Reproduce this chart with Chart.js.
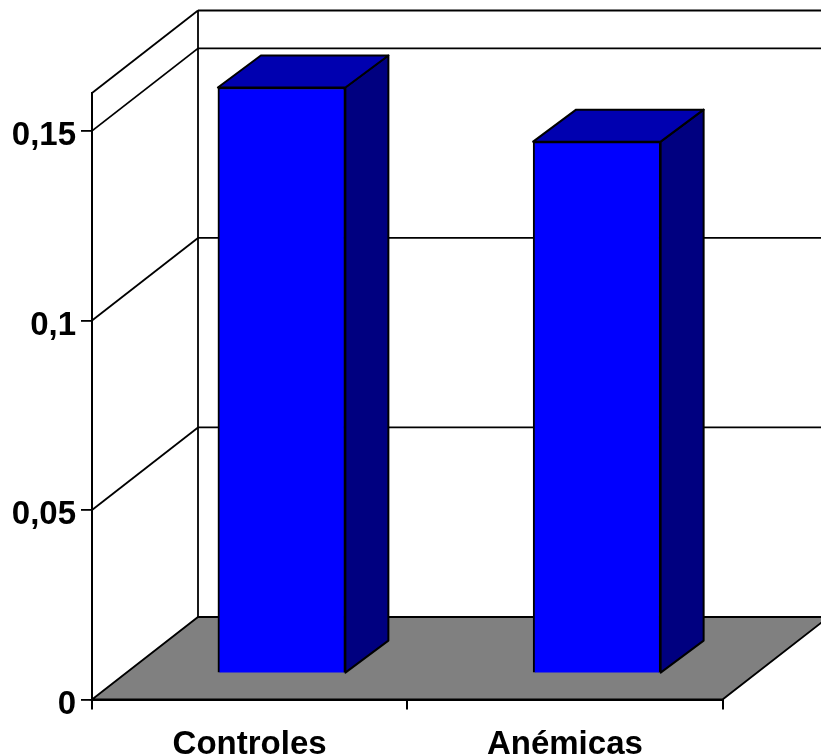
<!DOCTYPE html>
<html>
<head>
<meta charset="utf-8">
<style>
  html, body { margin: 0; padding: 0; background: #fff; overflow: hidden; }
  canvas { display: block; }
</style>
<script src="https://cdn.jsdelivr.net/npm/chart.js@4"></script>
</head>
<body>
<canvas id="chart" width="821" height="754"></canvas>
<script>
const categories = ["Controles", "Anémicas"];
const barValues = [0.1546, 0.1403];
const yTickValues = [0, 0.05, 0.1, 0.15];
const yTickLabels = ["0", "0,05", "0,1", "0,15"];
const yMax = 0.16;

// depth of the fake 3D box, and how far the bars stand in from the front plane
const wallDepth = { x: 106, y: 82.5 };
const barInset = { x: 32, y: 26 };
const barDepth = { x: 43, y: 32 };
const yLabelDrop = 5;

function poly(ctx, points, fill) {
    ctx.beginPath();
    ctx.moveTo(points[0][0], points[0][1]);
    for (var i = 1; i < points.length; i++) ctx.lineTo(points[i][0], points[i][1]);
    ctx.closePath();
    if (fill) {
        ctx.fillStyle = fill;
        ctx.fill();
    }
    ctx.stroke();
}

function line(ctx, x1, y1, x2, y2) {
    ctx.beginPath();
    ctx.moveTo(x1, y1);
    ctx.lineTo(x2, y2);
    ctx.stroke();
}

// left wall, back wall and floor
const boxPlugin = {
    id: "box",
    beforeDraw(chart) {
        const ctx = chart.ctx;
        const area = chart.chartArea;
        const y = chart.scales.y;
        const dx = wallDepth.x, dy = wallDepth.y;
        const y0 = y.getPixelForValue(0);
        ctx.save();
        ctx.strokeStyle = "#000";
        ctx.lineWidth = 1.8;
        line(ctx, area.left, area.top, area.left + dx, area.top - dy);
        line(ctx, area.left + dx, area.top - dy, area.left + dx, y0 - dy);
        line(ctx, area.left + dx, area.top - dy, area.right + dx, area.top - dy);
        for (const v of yTickValues) {
            const py = y.getPixelForValue(v);
            if (v > 0) {
                line(ctx, area.left, py, area.left + dx, py - dy);
                line(ctx, area.left + dx, py - dy, area.right + dx, py - dy);
            }
        }
        poly(ctx, [
            [area.left, y0],
            [area.left + dx, y0 - dy],
            [area.right + dx, y0 - dy],
            [area.right, y0]
        ], "#808080");
        ctx.restore();

        // the value labels sit a little under their tick marks
        for (const item of y.getLabelItems(area)) {
            if (!item.dropped) {
                item.textOffset += yLabelDrop;
                item.dropped = true;
            }
        }
    }
};

// shifts the bars back into the box and adds their top and side faces
const barFacesPlugin = {
    id: "barFaces",
    beforeDatasetDraw(chart, args) {
        const ctx = chart.ctx;
        ctx.save();
        ctx.translate(barInset.x, -barInset.y);
        ctx.strokeStyle = "#000";
        ctx.lineWidth = 2;
        ctx.lineJoin = "round";
        for (const bar of args.meta.data) {
            const p = bar.getProps(["x", "y", "base", "width"], true);
            const l = p.x - p.width / 2, r = p.x + p.width / 2;
            poly(ctx, [
                [r, p.y],
                [r + barDepth.x, p.y - barDepth.y],
                [r + barDepth.x, p.base - barDepth.y],
                [r, p.base]
            ], "#000080");
            poly(ctx, [
                [l, p.y],
                [l + barDepth.x, p.y - barDepth.y],
                [r + barDepth.x, p.y - barDepth.y],
                [r, p.y]
            ], "#0000b0");
        }
    },
    afterDatasetDraw(chart) {
        chart.ctx.restore();
    }
};

const axisFont = { family: "'Liberation Sans', Arial, sans-serif", size: 33, weight: "bold" };

new Chart(document.getElementById("chart"), {
    type: "bar",
    data: {
        labels: categories,
        datasets: [{
            data: barValues,
            backgroundColor: "#0000ff",
            borderColor: "#000",
            borderWidth: 2,
            barThickness: 127.5,
            clip: false
        }]
    },
    options: {
        responsive: false,
        animation: false,
        devicePixelRatio: 1,
        layout: { padding: { top: 93, right: 98.5, left: 0, bottom: 0 } },
        plugins: { legend: { display: false }, tooltip: { enabled: false } },
        scales: {
            x: {
                afterFit(scale) { scale.height = 54.5; },
                grid: { drawOnChartArea: false, color: "#000", lineWidth: 2, tickLength: 10 },
                border: { display: true, color: "#000", width: 2 },
                ticks: { color: "#000", font: axisFont, padding: 16, maxRotation: 0, autoSkip: false }
            },
            y: {
                min: 0,
                max: yMax,
                afterFit(scale) { scale.width = 92; },
                afterBuildTicks(scale) {
                    scale.ticks = yTickValues.map(function(v) { return { value: v }; });
                },
                grid: { drawOnChartArea: false, color: "#000", lineWidth: 1.8, tickLength: 11 },
                border: { display: true, color: "#000", width: 2 },
                ticks: {
                    color: "#000",
                    font: axisFont,
                    padding: 5,
                    autoSkip: false,
                    callback(value) { return yTickLabels[yTickValues.indexOf(value)]; }
                }
            }
        }
    },
    plugins: [boxPlugin, barFacesPlugin]
});
</script>
</body>
</html>
